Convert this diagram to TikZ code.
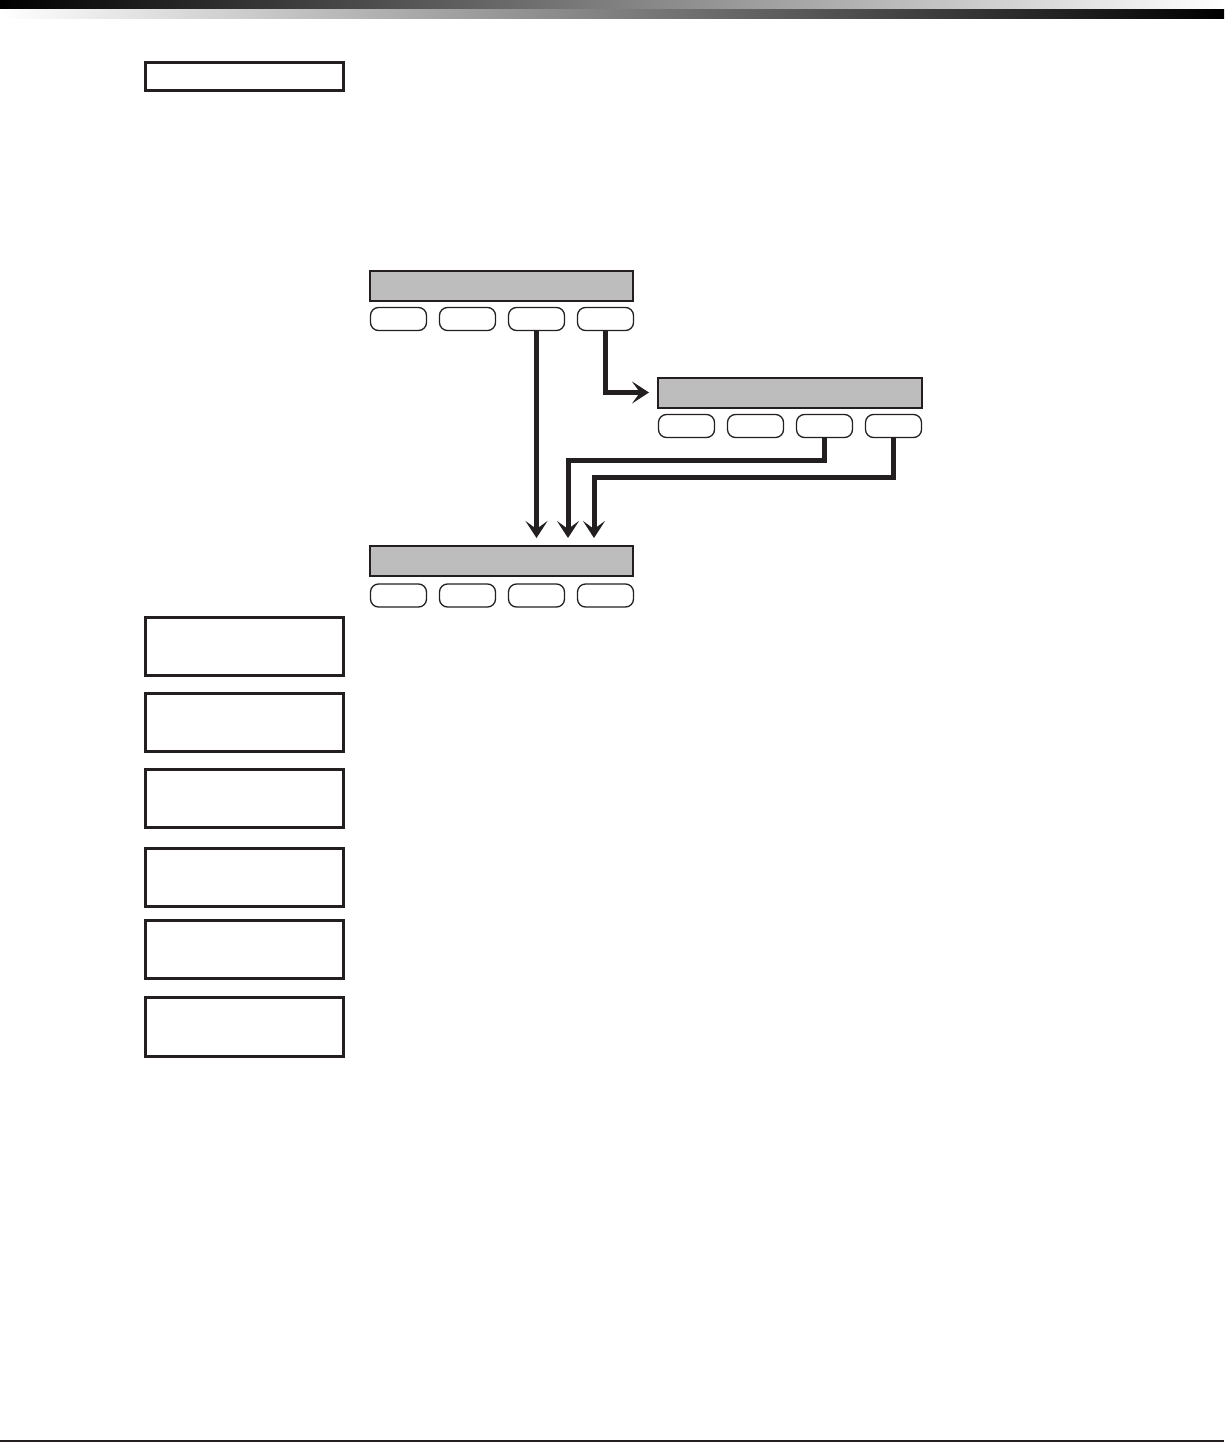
\documentclass[tikz,border=0pt]{standalone}
\usetikzlibrary{arrows.meta}
\definecolor{ink}{HTML}{231F20}
\definecolor{screen}{HTML}{BDBDBD}
\tikzset{
  lbox/.style={draw=ink, line width=3pt, minimum width=198.5pt, inner sep=0pt, outer sep=0pt},
  scr/.style={draw=ink, fill=screen, line width=2pt, minimum width=263pt, minimum height=30pt, inner sep=0pt, outer sep=0pt},
  btn/.style={draw=ink, line width=1.3pt, rounded corners=8pt, minimum width=56pt, minimum height=23pt, inner sep=0pt, outer sep=0pt},
  arr/.style={draw=ink, line width=5pt, -{Stealth[length=17pt,width=22pt,inset=8pt]}}
}
\begin{document}
\begin{tikzpicture}[x=1pt,y=-1pt]
\useasboundingbox (0,0) rectangle (1224,1442);
% header gradient bands and footer rule
\shade[left color=black, right color=white] (0,0) rectangle (1224,10);
\shade[left color=white, right color=black] (0,10) rectangle (1224,19);
\fill[ink] (0,1440) rectangle (1224,1442);

% left boxes
\node[lbox, minimum height=28.5pt] (l1) at (244.5,76.5) {};
\node[lbox, minimum height=58.5pt] (l2) at (244.5,646.5) {};
\node[lbox, minimum height=58.5pt] (l3) at (244.5,722.5) {};
\node[lbox, minimum height=58.5pt] (l4) at (244.5,798.5) {};
\node[lbox, minimum height=58.5pt] (l5) at (244.5,877.5) {};
\node[lbox, minimum height=58.5pt] (l6) at (244.5,949.5) {};
\node[lbox, minimum height=58.5pt] (l7) at (244.5,1027) {};

% panel A
\node[scr] (as) at (501.5,286) {};
\node[btn] (a1) at (398.5,319) {};
\node[btn] (a2) at (467.5,319) {};
\node[btn] (a3) at (536.5,319) {};
\node[btn] (a4) at (605.5,319) {};

% panel B
\node[scr, minimum width=264pt] (bs) at (790,392.5) {};
\node[btn] (b1) at (686.5,426) {};
\node[btn] (b2) at (755.5,426) {};
\node[btn] (b3) at (824.5,426) {};
\node[btn] (b4) at (893.5,426) {};

% panel C
\node[scr] (cs) at (501.5,561) {};
\node[btn] (c1) at (398.5,595.5) {};
\node[btn] (c2) at (467.5,595.5) {};
\node[btn] (c3) at (536.5,595.5) {};
\node[btn] (c4) at (605.5,595.5) {};

% connectors
\coordinate (j1) at (568,460);
\coordinate (j2) at (594,477);
\draw[arr, shorten >=8pt] (a3.south) -- (a3.south |- cs.north);
\draw[arr, shorten >=9pt] (a4.south) |- (bs.west);
\draw[arr, shorten >=8pt] (b3.south) |- (j1) -- (j1 |- cs.north);
\draw[arr, shorten >=8pt] (b4.south) |- (j2) -- (j2 |- cs.north);
\end{tikzpicture}
\end{document}
